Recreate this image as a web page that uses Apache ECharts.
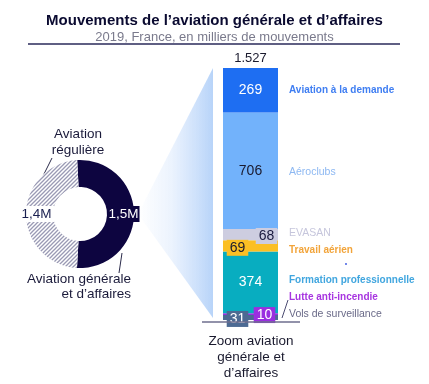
<!DOCTYPE html>
<html><head><meta charset="utf-8">
<script src="https://cdn.jsdelivr.net/npm/echarts@6/dist/echarts.min.js"></script>
<style>html,body{margin:0;padding:0;background:#fff}#c{width:429px;height:384px}</style>
</head><body><div id="c"></div>
<script>
// ---- data ----
const categories = ['Vols de surveillance','Lutte anti-incendie','Formation professionnelle','Travail aérien','EVASAN','Aéroclubs','Aviation à la demande'];
const values = [31, 10, 374, 69, 68, 706, 269];
const totalLabel = '1.527';
const donutNames = ['Aviation générale et d\u2019affaires', 'Aviation régulière'];
const donutValues = [1.5, 1.4];
const donutLabels = ['1,5M', '1,4M'];

// ---- styles ----
const segColors = ['#4c6a93','#9a2fe0','#08adc0','#fbbf24','#cdcde0','#72b2fb','#1e6ef2'];
const nameColors = ['#6a6a88','#a735e0','#41a6df','#f2a43a','#c6c6dc','#8db8f2','#3f7ef2'];
const nameBold = [false,true,true,true,false,false,true];
const nameDy = [-3.5, -17, -2, 4, -1.5, 1, 0];
const valLabel = [
  {color:'#fff', bg:'#4c6a93', off:[-13,1.5], pad:[1,3]},
  {color:'#fff', bg:'#9a2fe0', off:[14,1], pad:[1,3]},
  {color:'#fff', bg:null, off:[0,0]},
  {color:'#1a1a2e', bg:'#fbbf24', off:[-13,2], pad:[1,3]},
  {color:'#1a1a3e', bg:'#cdcde0', off:[16,1.5], pad:[1,3]},
  {color:'#1a1a2e', bg:null, off:[0,0]},
  {color:'#fff', bg:null, off:[0,0]}
];
const FONT = 'Liberation Sans, Arial, sans-serif';

// hatch pattern
const pc = document.createElement('canvas');
pc.width = 4; pc.height = 4;
const g = pc.getContext('2d');
g.fillStyle = '#ffffff'; g.fillRect(0,0,4,4);
g.strokeStyle = '#9a9ab4'; g.lineWidth = 1.3;
g.beginPath(); g.moveTo(0,4); g.lineTo(4,0); g.moveTo(-1,1); g.lineTo(1,-1); g.moveTo(3,5); g.lineTo(5,3); g.stroke();

const chart = echarts.init(document.getElementById('c'), null, {renderer:'canvas'});

const barSeries = categories.map((name, i) => ({
  name, type:'bar', stack:'t', barWidth:'100%', data:[values[i]],
  itemStyle:{color:segColors[i]}, silent:true, z:3,
  label:{show:true, position:'inside', formatter:String(values[i]), fontFamily:FONT, fontSize:14,
    color:valLabel[i].color, offset:valLabel[i].off,
    backgroundColor:valLabel[i].bg || 'transparent', padding:valLabel[i].pad || 0}
}));

chart.setOption({
  animation:false,
  title:[
    {text:'Mouvements de l\u2019aviation générale et d\u2019affaires', left:'center', top:8,
     textStyle:{fontFamily:FONT, fontSize:15, fontWeight:'bold', color:'#0a0a30'}},
    {text:'2019, France, en milliers de mouvements', left:'center', top:26,
     textStyle:{fontFamily:FONT, fontSize:13, fontWeight:'normal', color:'#7a7a8c'}}
  ],
  grid:{left:223, top:68, width:55, height:252},
  xAxis:{type:'category', data:[''], show:false},
  yAxis:{type:'value', min:0, max:1527, show:false},
  series:[
    ...barSeries,
    {type:'pie', center:[80,214], radius:[27,54], startAngle:93, silent:true, z:4,
     data:donutValues.map((v,i)=>({name:donutNames[i], value:v,
       itemStyle:{color: i===0 ? '#0d0540' : {image:pc, repeat:'repeat'}},
       label:{formatter:donutLabels[i], color: i===0 ? '#fff' : '#1a2050',
         backgroundColor: i===0 ? '#0d0540' : '#fff', padding: i===0 ? [1,1] : [1,3]}
     })),
     label:{show:true, position:'inside', fontFamily:FONT, fontSize:13.5},
     labelLine:{show:false}
    }
  ]
});

// positions derived from the axis
const yPix = v => chart.convertToPixel({yAxisIndex:0}, v);
const xMid = 250.5;
const elements = [];
// fan
const yTop = yPix(1527), yBot = yPix(0);
elements.push({type:'polygon', z:1, silent:true,
  shape:{points:[[138,214],[213,yTop],[213,yBot-2]]},
  style:{fill:new echarts.graphic.LinearGradient(0,0,1,0,[
    {offset:0, color:'rgba(190,215,250,0)'},{offset:0.45, color:'rgba(190,215,250,0.3)'},{offset:1, color:'rgba(184,212,249,1)'}])}});
// title rule
elements.push({type:'line', silent:true, shape:{x1:28,y1:44,x2:400,y2:44}, style:{stroke:'#2a2a5a', lineWidth:1.3}});
// baseline
elements.push({type:'line', silent:true, z:10, shape:{x1:202,y1:yBot+2,x2:300,y2:yBot+2}, style:{stroke:'#6e6e8e', lineWidth:1.6}});
// total
elements.push({type:'text', silent:true, x:xMid, y:yTop-10, style:{text:totalLabel, font:'13px '+FONT, fill:'#1a1a2e', align:'center', verticalAlign:'middle'}});
// category names
let cum = 0;
categories.forEach((name,i)=>{
  const mid = yPix(cum + values[i]/2); cum += values[i];
  elements.push({type:'text', silent:true, x:289, y:mid+nameDy[i],
    style:{text:name, font:(nameBold[i]?'bold 10px ':'10.5px ')+FONT, fill:nameColors[i], align:'left', verticalAlign:'middle'}});
});
// leader line to Lutte anti-incendie
elements.push({type:'line', silent:true, shape:{x1:282,y1:318,x2:288,y2:300}, style:{stroke:'#4a4a70', lineWidth:1}});
// stray dot
elements.push({type:'circle', silent:true, shape:{cx:346,cy:264,r:0.9}, style:{fill:'#3050e0'}});
// bottom caption
elements.push({type:'text', silent:true, x:251, y:yBot+13, style:{text:'Zoom aviation\ngénérale et\nd\u2019affaires', font:'13.5px '+FONT, lineHeight:16, fill:'#1a1a2e', align:'center', verticalAlign:'top'}});
// donut outer labels
elements.push({type:'text', silent:true, x:78, y:126, style:{text:'Aviation\nrégulière', font:'13.5px '+FONT, lineHeight:16, fill:'#1a1a3a', align:'center', verticalAlign:'top'}});
elements.push({type:'line', silent:true, shape:{x1:52,y1:158,x2:40,y2:182}, style:{stroke:'#2a2a4a', lineWidth:1}});
elements.push({type:'text', silent:true, x:131, y:272, style:{text:'Aviation générale\net d\u2019affaires', font:'13.5px '+FONT, lineHeight:15, fill:'#1a1a3a', align:'right', verticalAlign:'top'}});
elements.push({type:'line', silent:true, shape:{x1:122,y1:253,x2:119,y2:273}, style:{stroke:'#2a2a4a', lineWidth:1}});

chart.setOption({graphic:{elements}});
</script></body></html>
